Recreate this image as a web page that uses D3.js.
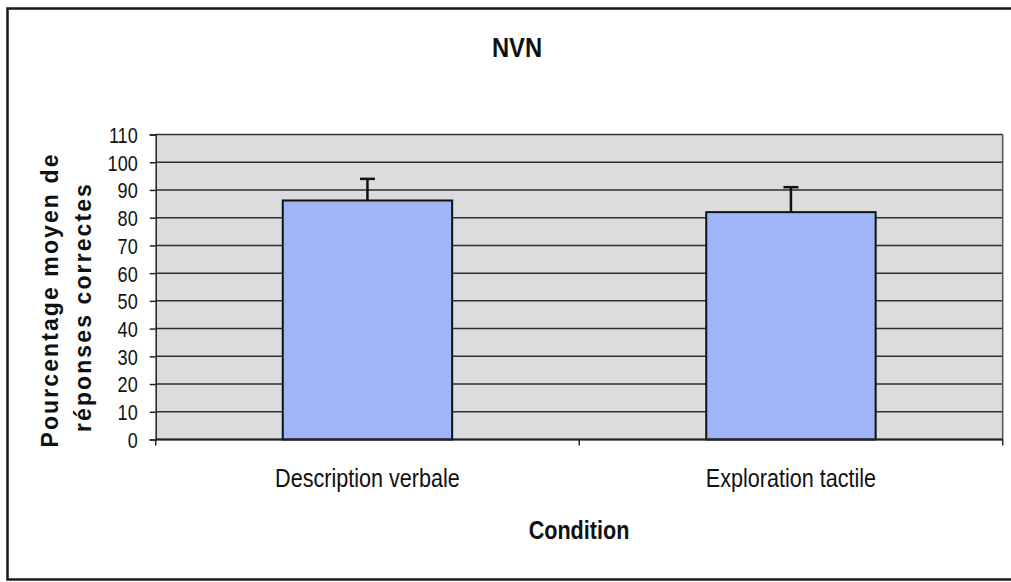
<!DOCTYPE html>
<html>
<head>
<meta charset="utf-8">
<script src="https://cdn.jsdelivr.net/npm/d3@7"></script>
<style>
body{margin:0;background:#fff;}
.narrow{font-family:"Liberation Sans",Arial,sans-serif;}
.ytitle{font-family:"Liberation Sans",Arial,sans-serif;font-weight:bold;font-size:23px;letter-spacing:2.1px;}
</style>
</head>
<body>
<svg id="NVNChart"></svg>
<script>
var categories = ["Description verbale","Exploration tactile"];
var means = [86.2, 82.0];
var errors = [7.8, 9.0];
var yTicks = [0,10,20,30,40,50,60,70,80,90,100,110];
var titleText = "NVN";
var xTitle = "Condition";
var yTitleLines = ["Pourcentage moyen de","réponses correctes"];

// squeeze text horizontally, no narrow font installed
var squeeze = function(sel,factor){
    sel.each(function(){
        var w = this.getComputedTextLength();
        d3.select(this)
            .attr("textLength",(w*factor).toFixed(1))
            .attr("lengthAdjust","spacingAndGlyphs");
    });
}

var initGraph = function(target)
{
    var screen = {width:1011, height:582};
    var plot = {left:155.7, right:1002.7, top:134.5, bottom:439.5};

    var svg = d3.select(target)
        .attr("width",screen.width)
        .attr("height",screen.height);

    // outer frame (top, left, bottom)
    svg.append("path")
        .attr("d","M1011,8.5 L7.5,8.5 L7.5,579.5 L1011,579.5")
        .attr("fill","none")
        .attr("stroke","#1a1a1a")
        .attr("stroke-width",2.5);

    var xScale = d3.scaleBand()
        .domain(categories)
        .range([plot.left,plot.right])
        .paddingInner(0.6)
        .paddingOuter(0.3);
    var yScale = d3.scaleLinear()
        .domain([0,110])
        .range([plot.bottom,plot.top]);

    svg.append("rect")
        .attr("x",plot.left)
        .attr("y",plot.top)
        .attr("width",plot.right-plot.left)
        .attr("height",plot.bottom-plot.top)
        .attr("fill","#dcdcdf");

    // grid
    svg.append("g")
        .selectAll("line")
        .data(yTicks)
        .enter()
        .append("line")
        .attr("x1",plot.left)
        .attr("x2",plot.right)
        .attr("y1",function(d){return yScale(d);})
        .attr("y2",function(d){return yScale(d);})
        .attr("stroke","#2e2e2e")
        .attr("stroke-width",1.5);

    svg.append("line")
        .attr("x1",plot.right).attr("x2",plot.right)
        .attr("y1",plot.top).attr("y2",plot.bottom)
        .attr("stroke","#555")
        .attr("stroke-width",1.5);

    var data = categories.map(function(c,i){return {cat:c, mean:means[i], err:errors[i]};});

    var bars = svg.append("g").selectAll("g")
        .data(data)
        .enter()
        .append("g");

    bars.append("rect")
        .attr("x",function(d){return xScale(d.cat);})
        .attr("y",function(d){return yScale(d.mean);})
        .attr("width",xScale.bandwidth())
        .attr("height",function(d){return yScale(0)-yScale(d.mean);})
        .attr("fill","#a0b5f7")
        .attr("stroke","#111")
        .attr("stroke-width",2);

    // error bars, upper side only
    bars.append("line")
        .attr("x1",function(d){return xScale(d.cat)+xScale.bandwidth()/2;})
        .attr("x2",function(d){return xScale(d.cat)+xScale.bandwidth()/2;})
        .attr("y1",function(d){return yScale(d.mean);})
        .attr("y2",function(d){return yScale(d.mean+d.err);})
        .attr("stroke","#111")
        .attr("stroke-width",2.5);
    bars.append("line")
        .attr("x1",function(d){return xScale(d.cat)+xScale.bandwidth()/2-7.5;})
        .attr("x2",function(d){return xScale(d.cat)+xScale.bandwidth()/2+7.5;})
        .attr("y1",function(d){return yScale(d.mean+d.err);})
        .attr("y2",function(d){return yScale(d.mean+d.err);})
        .attr("stroke","#111")
        .attr("stroke-width",2.5);

    // y axis
    var yAxis = d3.axisLeft(yScale)
        .tickValues(yTicks)
        .tickSize(6)
        .tickPadding(12);
    var ya = svg.append("g")
        .attr("transform","translate("+plot.left+",0)")
        .call(yAxis);
    ya.select(".domain").attr("stroke","#222").attr("stroke-width",1.5);
    ya.selectAll(".tick line").attr("stroke","#222").attr("stroke-width",1.5);
    ya.selectAll(".tick text")
        .classed("narrow",true)
        .attr("font-size",22)
        .attr("fill","#111")
        .attr("dy","0.36em")
        .call(squeeze,0.82);

    // x axis line and ticks between categories
    svg.append("line")
        .attr("x1",plot.left).attr("x2",plot.right)
        .attr("y1",plot.bottom).attr("y2",plot.bottom)
        .attr("stroke","#222")
        .attr("stroke-width",2);
    var bounds = [plot.left].concat(categories.map(function(c){
        return xScale(c)+xScale.bandwidth()/2+xScale.step()/2;}));
    svg.append("g").selectAll("line")
        .data(bounds)
        .enter()
        .append("line")
        .attr("x1",function(d){return d;})
        .attr("x2",function(d){return d;})
        .attr("y1",plot.bottom)
        .attr("y2",plot.bottom+6)
        .attr("stroke","#222")
        .attr("stroke-width",1.5);

    svg.append("g").selectAll("text")
        .data(categories)
        .enter()
        .append("text")
        .classed("narrow",true)
        .attr("x",function(d){return xScale(d)+xScale.bandwidth()/2;})
        .attr("y",487)
        .attr("text-anchor","middle")
        .attr("font-size",26)
        .attr("fill","#111")
        .text(function(d){return d;})
        .call(squeeze,0.83);

    // labels
    svg.append("text")
        .classed("narrow",true)
        .attr("x",517)
        .attr("y",57)
        .attr("text-anchor","middle")
        .attr("font-size",27)
        .attr("font-weight","bold")
        .attr("fill","#111")
        .text(titleText)
        .call(squeeze,0.88);

    svg.append("text")
        .classed("narrow",true)
        .attr("x",579)
        .attr("y",539)
        .attr("text-anchor","middle")
        .attr("font-size",26)
        .attr("font-weight","bold")
        .attr("fill","#111")
        .text(xTitle)
        .call(squeeze,0.83);

    var yt = svg.append("g")
        .attr("transform","rotate(-90)");
    yt.selectAll("text")
        .data(yTitleLines)
        .enter()
        .append("text")
        .classed("ytitle",true)
        .attr("x",function(d,i){return i==0 ? -300 : -307;})
        .attr("y",function(d,i){return i==0 ? 58 : 91;})
        .attr("text-anchor","middle")
        .attr("fill","#111")
        .text(function(d){return d;});
}

initGraph("#NVNChart");
</script>
</body>
</html>
